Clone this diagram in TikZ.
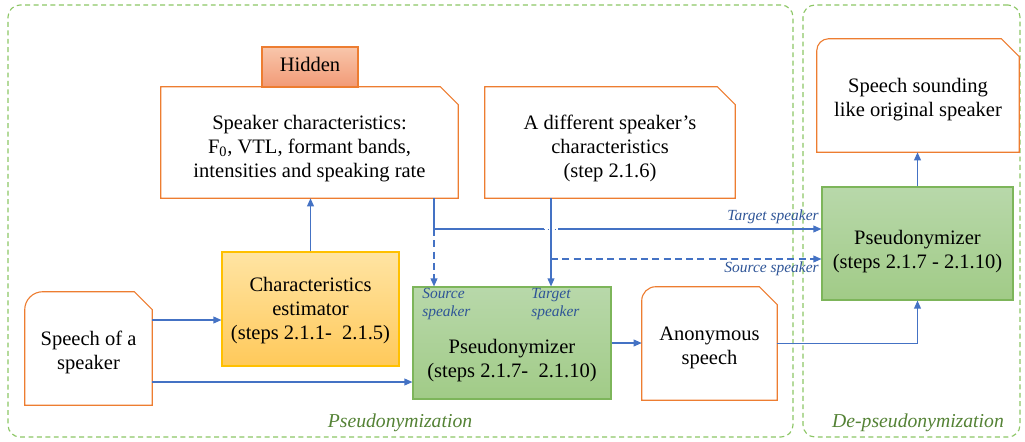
\documentclass[tikz,border=0pt]{standalone}
\usepackage{fontspec}
\setmainfont{Liberation Serif}
\newfontfamily\tnr{Liberation Serif}
\usetikzlibrary{fit,arrows.meta}
\newdimen\px \px=0.025cm
\definecolor{orng}{HTML}{ED7D31}
\definecolor{arblue}{HTML}{4472C4}
\definecolor{labblue}{HTML}{2F5597}
\definecolor{regg}{HTML}{8CC665}
\definecolor{regtxt}{HTML}{548235}
\definecolor{hidtop}{HTML}{F8C6AB}
\definecolor{hidbot}{HTML}{F29A76}
\definecolor{esttop}{HTML}{FFE4A3}
\definecolor{estbot}{HTML}{FFC95A}
\definecolor{estline}{HTML}{FFC000}
\definecolor{grtop}{HTML}{B8D8AA}
\definecolor{grbot}{HTML}{A1CB87}
\definecolor{grline}{HTML}{7DB55A}
\newcommand\tbox[2]{\raisebox{\dimexpr-#1\px-0.25em\relax}[0pt][0pt]{\begin{tabular}{@{}c@{}}#2\end{tabular}}}
\newcommand\snipdraw[3]{%
  \draw[orangeline] ([yshift=-#2\px]#1.north west)
    .. controls ([yshift=-0.45*#2\px]#1.north west) and ([xshift=0.45*#2\px]#1.north west) ..
    ([xshift=#2\px]#1.north west) -- ([xshift=-#3\px]#1.north east)
    -- ([yshift=-#3\px]#1.north east) -- (#1.south east) -- (#1.south west) -- cycle;}
\begin{document}
\begin{tikzpicture}[x=0.025cm,y=-0.025cm,
  region/.style={draw=regg, line width=0.8pt, dash pattern=on 3.5pt off 2.5pt, rounded corners=0.3cm, inner sep=0pt},
  regionlabel/.style={text=regtxt, font=\tnr\fontsize{14}{16}\selectfont\itshape, inner sep=0pt},
  txtbox/.style={inner sep=0pt, font=\tnr\fontsize{14.6}{17}\selectfont},
  orangeline/.style={draw=orng, line width=0.8pt},
  hidbox/.style={txtbox, draw=orng, line width=0.8pt, top color=hidtop, bottom color=hidbot},
  estbox/.style={txtbox, draw=estline, line width=0.8pt, top color=esttop, bottom color=estbot},
  grbox/.style={txtbox, draw=grline, line width=0.8pt, top color=grtop, bottom color=grbot},
  smalllab/.style={text=labblue, font=\tnr\fontsize{11}{13}\selectfont\itshape, inner sep=0pt},
  conn/.style={draw=arblue, line width=0.9pt},
  arr/.style={conn, -{Triangle[length=2mm,width=1.7mm]}},
  darr/.style={arr, dash pattern=on 5pt off 3pt}
]
\useasboundingbox (0,0) rectangle (1025,441);

% regions
\node[region, fit={(8,5)(793,437)}] (regL) {};
\node[region, fit={(803,5)(1020,437)}] (regR) {};
\node[regionlabel] (lblL) at (400,423) {Pseudonymization};
\node[regionlabel] (lblR) at (918,423) {De-pseudonymization};

% boxes
\node[hidbox, fit={(262,47)(358,87)}] (hid) {\tbox{0}{Hidden}};
\node[txtbox, fit={(161,87)(458,198)}] (sc) {\tbox{6}{Speaker characteristics:\\F\textsubscript{0}, VTL, formant bands,\\intensities and speaking rate}};
\snipdraw{sc}{0.01}{18}
\node[txtbox, fit={(485,87)(735,198)}] (ds) {\tbox{6}{A different speaker’s\\characteristics\\(step 2.1.6)}};
\snipdraw{ds}{0.01}{18}
\node[txtbox, fit={(25,292)(152,405)}] (sp) {\tbox{4}{Speech of a\\speaker}};
\snipdraw{sp}{18}{18}
\node[estbox, fit={(222,252)(399,366)}] (est) {\tbox{2}{Characteristics\\estimator\\(steps 2.1.1- \ 2.1.5)}};
\node[grbox, fit={(413,287)(611,399)}] (ps1) {\tbox{18}{Pseudonymizer\\(steps 2.1.7- \ 2.1.10)}};
\node[txtbox, fit={(642,287)(777,400)}] (an) {\tbox{4}{Anonymous\\speech}};
\snipdraw{an}{14}{18}
\node[txtbox, fit={(817,39)(1019,152)}] (ss) {\tbox{4}{Speech sounding\\like original speaker}};
\snipdraw{ss}{12}{18}
\node[grbox, fit={(822,187)(1013,300)}] (ps2) {\tbox{8}{Pseudonymizer\\(steps 2.1.7 - 2.1.10)}};

% labels
\node[smalllab, anchor=north west, align=left] (srcL) at (422,288) {Source\\speaker};
\node[smalllab, anchor=north west, align=left] (tgtL) at (531,288) {Target\\speaker};
\node[smalllab, anchor=east] (tlab) at (819,217) {Target speaker};
\node[smalllab, anchor=east] (slab) at (819,269) {Source speaker};

% coordinates
\coordinate (y320) at (0,320);
\coordinate (y382) at (0,382);
\coordinate (x434) at (434,0);
\coordinate (x551) at (551,0);
\coordinate (j1) at (434,229);
\coordinate (g1) at (544,229);
\coordinate (g2) at (558,229);
\coordinate (j2) at (551,259);

% connectors
\draw[arr] (sp.east |- y320) -- (est.west |- y320);
\draw[arr] (sp.east |- y382) -- (ps1.west |- y382);
\draw[arr] (est.north) -- (est.north |- sc.south);
\draw[conn] (sc.south -| x434) -- (j1) -- (g1);
\draw[conn, line width=0.6pt, dash pattern=on 1pt off 1.5pt] (g1) -- (g2);
\draw[arr] (g2) -- (ps2.west |- g2);
\draw[darr] (j1) -- (ps1.north -| j1);
\draw[arr] (ds.south -| x551) -- (ps1.north -| x551);
\draw[darr] (j2) -- (ps2.west |- j2);
\draw[arr] (ps1.east) -- (ps1.east -| an.west);
\draw[arr] (an.east) -- (an.east -| ps2.south) -- (ps2.south);
\draw[arr] (ps2.north) -- (ps2.north |- ss.south);
\end{tikzpicture}
\end{document}
